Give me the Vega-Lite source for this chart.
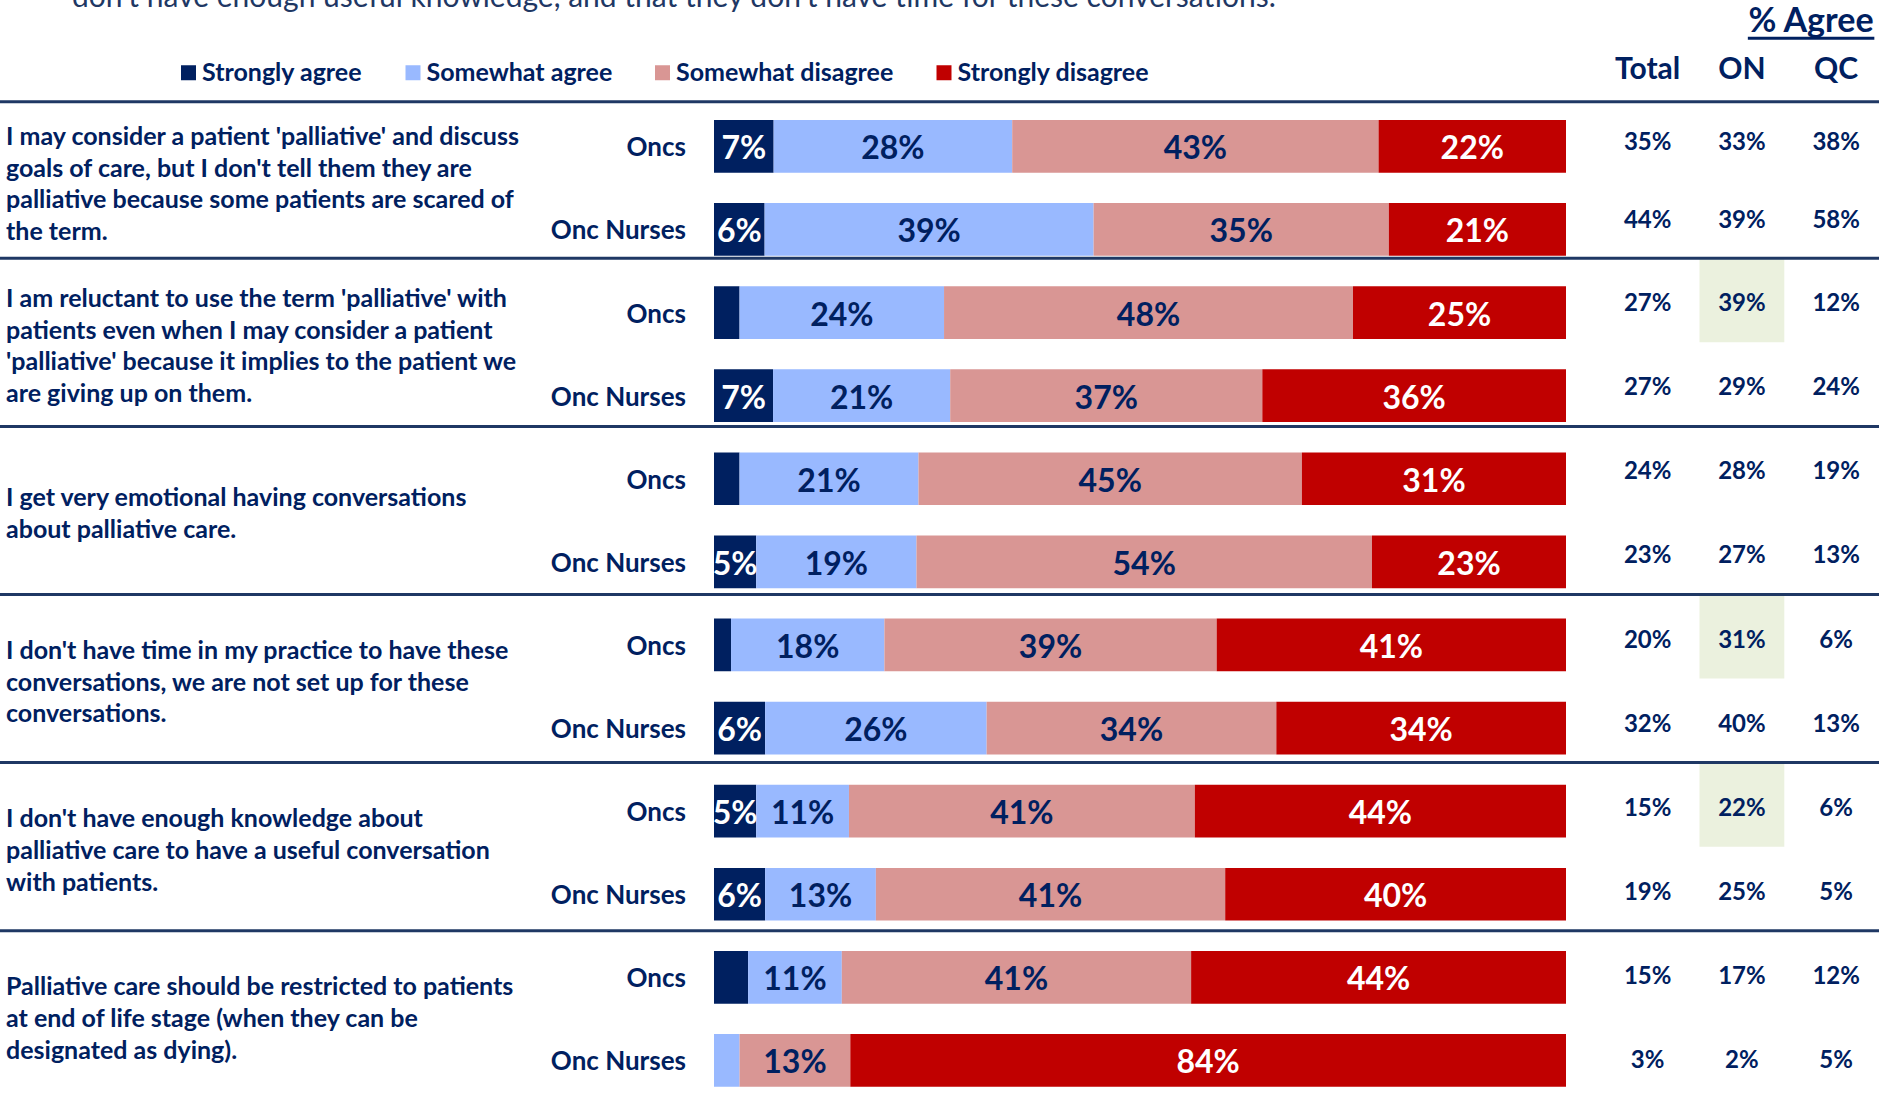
{
  "$schema": "https://vega.github.io/schema/vega-lite/v6.json",
  "width": 1879,
  "height": 1097,
  "autosize": {"type": "none"},
  "padding": 0,
  "background": "white",
  "config": {"view": {"stroke": null}, "font": "Lato"},
  "datasets": {
    "bars": [
      {"q": "Q1", "who": "Oncs", "resp": "Strongly agree", "level": 1, "value": 0.07},
      {"q": "Q1", "who": "Oncs", "resp": "Somewhat agree", "level": 2, "value": 0.28},
      {"q": "Q1", "who": "Oncs", "resp": "Somewhat disagree", "level": 3, "value": 0.43},
      {"q": "Q1", "who": "Oncs", "resp": "Strongly disagree", "level": 4, "value": 0.22},
      {"q": "Q1", "who": "Onc Nurses", "resp": "Strongly agree", "level": 1, "value": 0.06},
      {"q": "Q1", "who": "Onc Nurses", "resp": "Somewhat agree", "level": 2, "value": 0.39},
      {"q": "Q1", "who": "Onc Nurses", "resp": "Somewhat disagree", "level": 3, "value": 0.35},
      {"q": "Q1", "who": "Onc Nurses", "resp": "Strongly disagree", "level": 4, "value": 0.21},
      {"q": "Q2", "who": "Oncs", "resp": "Strongly agree", "level": 1, "value": 0.03},
      {"q": "Q2", "who": "Oncs", "resp": "Somewhat agree", "level": 2, "value": 0.24},
      {"q": "Q2", "who": "Oncs", "resp": "Somewhat disagree", "level": 3, "value": 0.48},
      {"q": "Q2", "who": "Oncs", "resp": "Strongly disagree", "level": 4, "value": 0.25},
      {"q": "Q2", "who": "Onc Nurses", "resp": "Strongly agree", "level": 1, "value": 0.07},
      {"q": "Q2", "who": "Onc Nurses", "resp": "Somewhat agree", "level": 2, "value": 0.21},
      {"q": "Q2", "who": "Onc Nurses", "resp": "Somewhat disagree", "level": 3, "value": 0.37},
      {"q": "Q2", "who": "Onc Nurses", "resp": "Strongly disagree", "level": 4, "value": 0.36},
      {"q": "Q3", "who": "Oncs", "resp": "Strongly agree", "level": 1, "value": 0.03},
      {"q": "Q3", "who": "Oncs", "resp": "Somewhat agree", "level": 2, "value": 0.21},
      {"q": "Q3", "who": "Oncs", "resp": "Somewhat disagree", "level": 3, "value": 0.45},
      {"q": "Q3", "who": "Oncs", "resp": "Strongly disagree", "level": 4, "value": 0.31},
      {"q": "Q3", "who": "Onc Nurses", "resp": "Strongly agree", "level": 1, "value": 0.05},
      {"q": "Q3", "who": "Onc Nurses", "resp": "Somewhat agree", "level": 2, "value": 0.19},
      {"q": "Q3", "who": "Onc Nurses", "resp": "Somewhat disagree", "level": 3, "value": 0.54},
      {"q": "Q3", "who": "Onc Nurses", "resp": "Strongly disagree", "level": 4, "value": 0.23},
      {"q": "Q4", "who": "Oncs", "resp": "Strongly agree", "level": 1, "value": 0.02},
      {"q": "Q4", "who": "Oncs", "resp": "Somewhat agree", "level": 2, "value": 0.18},
      {"q": "Q4", "who": "Oncs", "resp": "Somewhat disagree", "level": 3, "value": 0.39},
      {"q": "Q4", "who": "Oncs", "resp": "Strongly disagree", "level": 4, "value": 0.41},
      {"q": "Q4", "who": "Onc Nurses", "resp": "Strongly agree", "level": 1, "value": 0.06},
      {"q": "Q4", "who": "Onc Nurses", "resp": "Somewhat agree", "level": 2, "value": 0.26},
      {"q": "Q4", "who": "Onc Nurses", "resp": "Somewhat disagree", "level": 3, "value": 0.34},
      {"q": "Q4", "who": "Onc Nurses", "resp": "Strongly disagree", "level": 4, "value": 0.34},
      {"q": "Q5", "who": "Oncs", "resp": "Strongly agree", "level": 1, "value": 0.05},
      {"q": "Q5", "who": "Oncs", "resp": "Somewhat agree", "level": 2, "value": 0.11},
      {"q": "Q5", "who": "Oncs", "resp": "Somewhat disagree", "level": 3, "value": 0.41},
      {"q": "Q5", "who": "Oncs", "resp": "Strongly disagree", "level": 4, "value": 0.44},
      {"q": "Q5", "who": "Onc Nurses", "resp": "Strongly agree", "level": 1, "value": 0.06},
      {"q": "Q5", "who": "Onc Nurses", "resp": "Somewhat agree", "level": 2, "value": 0.13},
      {"q": "Q5", "who": "Onc Nurses", "resp": "Somewhat disagree", "level": 3, "value": 0.41},
      {"q": "Q5", "who": "Onc Nurses", "resp": "Strongly disagree", "level": 4, "value": 0.40},
      {"q": "Q6", "who": "Oncs", "resp": "Strongly agree", "level": 1, "value": 0.04},
      {"q": "Q6", "who": "Oncs", "resp": "Somewhat agree", "level": 2, "value": 0.11},
      {"q": "Q6", "who": "Oncs", "resp": "Somewhat disagree", "level": 3, "value": 0.41},
      {"q": "Q6", "who": "Oncs", "resp": "Strongly disagree", "level": 4, "value": 0.44},
      {"q": "Q6", "who": "Onc Nurses", "resp": "Strongly agree", "level": 1, "value": 0.0},
      {"q": "Q6", "who": "Onc Nurses", "resp": "Somewhat agree", "level": 2, "value": 0.03},
      {"q": "Q6", "who": "Onc Nurses", "resp": "Somewhat disagree", "level": 3, "value": 0.13},
      {"q": "Q6", "who": "Onc Nurses", "resp": "Strongly disagree", "level": 4, "value": 0.84}
    ],
    "table": [
      {"q": "Q1", "who": "Oncs", "col": "Total", "v": 0.35, "sig": 0},
      {"q": "Q1", "who": "Oncs", "col": "ON", "v": 0.33, "sig": 0},
      {"q": "Q1", "who": "Oncs", "col": "QC", "v": 0.38, "sig": 0},
      {"q": "Q1", "who": "Onc Nurses", "col": "Total", "v": 0.44, "sig": 0},
      {"q": "Q1", "who": "Onc Nurses", "col": "ON", "v": 0.39, "sig": 0},
      {"q": "Q1", "who": "Onc Nurses", "col": "QC", "v": 0.58, "sig": 0},
      {"q": "Q2", "who": "Oncs", "col": "Total", "v": 0.27, "sig": 0},
      {"q": "Q2", "who": "Oncs", "col": "ON", "v": 0.39, "sig": 1},
      {"q": "Q2", "who": "Oncs", "col": "QC", "v": 0.12, "sig": 0},
      {"q": "Q2", "who": "Onc Nurses", "col": "Total", "v": 0.27, "sig": 0},
      {"q": "Q2", "who": "Onc Nurses", "col": "ON", "v": 0.29, "sig": 0},
      {"q": "Q2", "who": "Onc Nurses", "col": "QC", "v": 0.24, "sig": 0},
      {"q": "Q3", "who": "Oncs", "col": "Total", "v": 0.24, "sig": 0},
      {"q": "Q3", "who": "Oncs", "col": "ON", "v": 0.28, "sig": 0},
      {"q": "Q3", "who": "Oncs", "col": "QC", "v": 0.19, "sig": 0},
      {"q": "Q3", "who": "Onc Nurses", "col": "Total", "v": 0.23, "sig": 0},
      {"q": "Q3", "who": "Onc Nurses", "col": "ON", "v": 0.27, "sig": 0},
      {"q": "Q3", "who": "Onc Nurses", "col": "QC", "v": 0.13, "sig": 0},
      {"q": "Q4", "who": "Oncs", "col": "Total", "v": 0.20, "sig": 0},
      {"q": "Q4", "who": "Oncs", "col": "ON", "v": 0.31, "sig": 1},
      {"q": "Q4", "who": "Oncs", "col": "QC", "v": 0.06, "sig": 0},
      {"q": "Q4", "who": "Onc Nurses", "col": "Total", "v": 0.32, "sig": 0},
      {"q": "Q4", "who": "Onc Nurses", "col": "ON", "v": 0.40, "sig": 0},
      {"q": "Q4", "who": "Onc Nurses", "col": "QC", "v": 0.13, "sig": 0},
      {"q": "Q5", "who": "Oncs", "col": "Total", "v": 0.15, "sig": 0},
      {"q": "Q5", "who": "Oncs", "col": "ON", "v": 0.22, "sig": 1},
      {"q": "Q5", "who": "Oncs", "col": "QC", "v": 0.06, "sig": 0},
      {"q": "Q5", "who": "Onc Nurses", "col": "Total", "v": 0.19, "sig": 0},
      {"q": "Q5", "who": "Onc Nurses", "col": "ON", "v": 0.25, "sig": 0},
      {"q": "Q5", "who": "Onc Nurses", "col": "QC", "v": 0.05, "sig": 0},
      {"q": "Q6", "who": "Oncs", "col": "Total", "v": 0.15, "sig": 0},
      {"q": "Q6", "who": "Oncs", "col": "ON", "v": 0.17, "sig": 0},
      {"q": "Q6", "who": "Oncs", "col": "QC", "v": 0.12, "sig": 0},
      {"q": "Q6", "who": "Onc Nurses", "col": "Total", "v": 0.03, "sig": 0},
      {"q": "Q6", "who": "Onc Nurses", "col": "ON", "v": 0.02, "sig": 0},
      {"q": "Q6", "who": "Onc Nurses", "col": "QC", "v": 0.05, "sig": 0}
    ],
    "questions": [
      {"q": "Q1", "text": "I may consider a patient 'palliative' and discuss\ngoals of care, but I don't tell them they are\npalliative because some patients are scared of\nthe term."},
      {"q": "Q2", "text": "I am reluctant to use the term 'palliative' with\npatients even when I may consider a patient\n'palliative' because it implies to the patient we\nare giving up on them."},
      {"q": "Q3", "text": "I get very emotional having conversations\nabout palliative care."},
      {"q": "Q4", "text": "I don't have time in my practice to have these\nconversations, we are not set up for these\nconversations."},
      {"q": "Q5", "text": "I don't have enough knowledge about\npalliative care to have a useful conversation\nwith patients."},
      {"q": "Q6", "text": "Palliative care should be restricted to patients\nat end of life stage (when they can be\ndesignated as dying)."}
    ],
    "cols": [{"col": "Total"}, {"col": "ON"}, {"col": "QC"}]
  },
  "layer": [
    {
      "data": {"name": "table"},
      "transform": [{"filter": "datum.sig == 1"}],
      "mark": {"type": "rect", "fill": "#EBF1DE"},
      "encoding": {
        "x": {"field": "col", "type": "nominal", "axis": null, "scale": {"type": "band", "domain": ["Total", "ON", "QC"], "range": [1600.5, 1883.3], "paddingInner": 0.1, "paddingOuter": 0.05}},
        "y": {"field": "q", "type": "nominal", "axis": null, "scale": {"type": "band", "domain": ["Q1", "Q2", "Q3", "Q4", "Q5", "Q6"], "range": [90.2, 1098.8], "paddingInner": 0, "paddingOuter": 0}},
        "yOffset": {"field": "who", "type": "nominal", "scale": {"type": "band", "domain": ["Oncs", "Onc Nurses"], "paddingInner": 0, "paddingOuter": 0}}
      }
    },
    {
      "data": {"name": "questions"},
      "transform": [{"filter": "datum.q != 'Q1'"}],
      "mark": {"type": "rule", "stroke": "#1F3864", "strokeWidth": 3},
      "encoding": {
        "y": {"field": "q", "type": "nominal", "axis": null, "bandPosition": 0, "scale": {"type": "band", "domain": ["Q1", "Q2", "Q3", "Q4", "Q5", "Q6"], "range": [90.2, 1098.8], "paddingInner": 0, "paddingOuter": 0}}
      }
    },
    {
      "data": {"values": [{"q": "Q1"}]},
      "mark": {"type": "rule", "stroke": "#1F3864", "strokeWidth": 3, "yOffset": -3},
      "encoding": {
        "y": {"field": "q", "type": "nominal", "axis": null, "bandPosition": 0, "scale": {"type": "band", "domain": ["Q1", "Q2", "Q3", "Q4", "Q5", "Q6"], "range": [104.8, 1102], "paddingInner": 0, "paddingOuter": 0}}
      }
    },
    {
      "data": {"name": "bars"},
      "mark": {"type": "bar"},
      "encoding": {
        "y": {"field": "q", "type": "nominal", "axis": null, "scale": {"type": "band", "domain": ["Q1", "Q2", "Q3", "Q4", "Q5", "Q6"], "range": [104.8, 1102], "paddingInner": 0, "paddingOuter": 0}},
        "yOffset": {"field": "who", "type": "nominal", "scale": {"type": "band", "domain": ["Oncs", "Onc Nurses"], "paddingInner": 0.3658, "paddingOuter": 0.1829}},
        "x": {"field": "value", "type": "quantitative", "stack": "normalize", "axis": null, "scale": {"domain": [0, 1], "range": [714, 1566], "nice": false, "zero": false}},
        "order": {"field": "level", "type": "quantitative"},
        "color": {
          "field": "resp", "type": "nominal",
          "scale": {"domain": ["Strongly agree", "Somewhat agree", "Somewhat disagree", "Strongly disagree"], "range": ["#002060", "#99B9FF", "#D99694", "#C00000"]},
          "legend": {"title": null, "orient": "none", "legendX": 176, "legendY": 60, "direction": "horizontal", "columns": 4, "symbolType": "square", "symbolSize": 225, "symbolStrokeWidth": 0, "symbolOpacity": 1, "labelFont": "Lato", "labelFontWeight": "bold", "labelFontSize": 25, "labelColor": "#002060", "labelOffset": 1, "columnPadding": 37.5, "labelLimit": 400, "padding": 0}
        }
      }
    },
    {
      "data": {"name": "bars"},
      "mark": {"type": "text", "font": "Lato", "fontWeight": "bold", "fontSize": 32, "baseline": "middle", "align": "center", "dy": 3},
      "encoding": {
        "y": {"field": "q", "type": "nominal", "axis": null, "scale": {"type": "band", "domain": ["Q1", "Q2", "Q3", "Q4", "Q5", "Q6"], "range": [104.8, 1102], "paddingInner": 0, "paddingOuter": 0}},
        "yOffset": {"field": "who", "type": "nominal", "scale": {"type": "band", "domain": ["Oncs", "Onc Nurses"], "paddingInner": 0.3658, "paddingOuter": 0.1829}},
        "x": {"field": "value", "type": "quantitative", "stack": "normalize", "bandPosition": 0.5, "axis": null, "scale": {"domain": [0, 1], "range": [714, 1566], "nice": false, "zero": false}},
        "order": {"field": "level", "type": "quantitative"},
        "text": {"field": "value", "type": "quantitative", "format": ".0%"},
        "opacity": {"condition": {"test": "datum.value >= 0.05", "value": 1}, "value": 0},
        "color": {"condition": {"test": "datum.level == 1 || datum.level == 4", "value": "#FFFFFF"}, "value": "#002060"}
      }
    },
    {
      "data": {"name": "table"},
      "transform": [{"filter": "datum.col == 'Total'"}],
      "mark": {"type": "text", "font": "Lato", "fontWeight": "bold", "fontSize": 26, "baseline": "middle", "align": "right", "dx": -28, "dy": 2, "color": "#002060"},
      "encoding": {
        "y": {"field": "q", "type": "nominal", "axis": null, "scale": {"type": "band", "domain": ["Q1", "Q2", "Q3", "Q4", "Q5", "Q6"], "range": [104.8, 1102], "paddingInner": 0, "paddingOuter": 0}},
        "yOffset": {"field": "who", "type": "nominal", "scale": {"type": "band", "domain": ["Oncs", "Onc Nurses"], "paddingInner": 0.3658, "paddingOuter": 0.1829}},
        "x": {"datum": 0, "type": "quantitative", "axis": null, "scale": {"domain": [0, 1], "range": [714, 1566], "nice": false, "zero": false}},
        "text": {"field": "who", "type": "nominal"}
      }
    },
    {
      "data": {"name": "questions"},
      "transform": [{"filter": "datum.q == 'Q1'"}],
      "mark": {"type": "text", "font": "Lato", "fontWeight": "bold", "fontSize": 25, "baseline": "middle", "align": "left", "lineBreak": "\n", "lineHeight": 31.7, "dy": -37.3, "color": "#002060"},
      "encoding": {
        "y": {"field": "q", "type": "nominal", "axis": null, "scale": {"type": "band", "domain": ["Q1", "Q2", "Q3", "Q4", "Q5", "Q6"], "range": [90.2, 1098.8], "paddingInner": 0, "paddingOuter": 0}},
        "x": {"datum": 0, "type": "quantitative", "axis": null, "scale": {"domain": [0, 1], "range": [6, 100], "nice": false, "zero": false}},
        "text": {"field": "text", "type": "nominal"}
      }
    },
    {
      "data": {"name": "questions"},
      "transform": [{"filter": "datum.q == 'Q2'"}],
      "mark": {"type": "text", "font": "Lato", "fontWeight": "bold", "fontSize": 25, "baseline": "middle", "align": "left", "lineBreak": "\n", "lineHeight": 31.7, "dy": -43.4, "color": "#002060"},
      "encoding": {
        "y": {"field": "q", "type": "nominal", "axis": null, "scale": {"type": "band", "domain": ["Q1", "Q2", "Q3", "Q4", "Q5", "Q6"], "range": [90.2, 1098.8], "paddingInner": 0, "paddingOuter": 0}},
        "x": {"datum": 0, "type": "quantitative", "axis": null, "scale": {"domain": [0, 1], "range": [6, 100], "nice": false, "zero": false}},
        "text": {"field": "text", "type": "nominal"}
      }
    },
    {
      "data": {"name": "questions"},
      "transform": [{"filter": "datum.q == 'Q3'"}],
      "mark": {"type": "text", "font": "Lato", "fontWeight": "bold", "fontSize": 25, "baseline": "middle", "align": "left", "lineBreak": "\n", "lineHeight": 31.7, "dy": -12.6, "color": "#002060"},
      "encoding": {
        "y": {"field": "q", "type": "nominal", "axis": null, "scale": {"type": "band", "domain": ["Q1", "Q2", "Q3", "Q4", "Q5", "Q6"], "range": [90.2, 1098.8], "paddingInner": 0, "paddingOuter": 0}},
        "x": {"datum": 0, "type": "quantitative", "axis": null, "scale": {"domain": [0, 1], "range": [6, 100], "nice": false, "zero": false}},
        "text": {"field": "text", "type": "nominal"}
      }
    },
    {
      "data": {"name": "questions"},
      "transform": [{"filter": "datum.q == 'Q4' || datum.q == 'Q5' || datum.q == 'Q6'"}],
      "mark": {"type": "text", "font": "Lato", "fontWeight": "bold", "fontSize": 25, "baseline": "middle", "align": "left", "lineBreak": "\n", "lineHeight": 31.7, "dy": -27.5, "color": "#002060"},
      "encoding": {
        "y": {"field": "q", "type": "nominal", "axis": null, "scale": {"type": "band", "domain": ["Q1", "Q2", "Q3", "Q4", "Q5", "Q6"], "range": [90.2, 1098.8], "paddingInner": 0, "paddingOuter": 0}},
        "x": {"datum": 0, "type": "quantitative", "axis": null, "scale": {"domain": [0, 1], "range": [6, 100], "nice": false, "zero": false}},
        "text": {"field": "text", "type": "nominal"}
      }
    },
    {
      "data": {"name": "table"},
      "transform": [{"filter": "datum.q != 'Q1'"}],
      "mark": {"type": "text", "font": "Lato", "fontWeight": "bold", "fontSize": 24, "baseline": "middle", "align": "center", "dy": 4, "color": "#002060"},
      "encoding": {
        "x": {"field": "col", "type": "nominal", "axis": null, "scale": {"type": "band", "domain": ["Total", "ON", "QC"], "range": [1600.5, 1883.3], "paddingInner": 0.1, "paddingOuter": 0.05}},
        "y": {"field": "q", "type": "nominal", "axis": null, "scale": {"type": "band", "domain": ["Q1", "Q2", "Q3", "Q4", "Q5", "Q6"], "range": [90.2, 1098.8], "paddingInner": 0, "paddingOuter": 0}},
        "yOffset": {"field": "who", "type": "nominal", "scale": {"type": "band", "domain": ["Oncs", "Onc Nurses"], "paddingInner": 0, "paddingOuter": 0}},
        "text": {"field": "v", "type": "quantitative", "format": ".0%"}
      }
    },
    {
      "data": {"name": "table"},
      "transform": [{"filter": "datum.q == 'Q1'"}],
      "mark": {"type": "text", "font": "Lato", "fontWeight": "bold", "fontSize": 24, "baseline": "middle", "align": "center", "dy": 2, "color": "#002060"},
      "encoding": {
        "x": {"field": "col", "type": "nominal", "axis": null, "scale": {"type": "band", "domain": ["Total", "ON", "QC"], "range": [1600.5, 1883.3], "paddingInner": 0.1, "paddingOuter": 0.05}},
        "y": {"field": "q", "type": "nominal", "axis": null, "scale": {"type": "band", "domain": ["Q1", "Q2", "Q3", "Q4", "Q5", "Q6"], "range": [90.2, 1098.8], "paddingInner": 0, "paddingOuter": 0}},
        "yOffset": {"field": "who", "type": "nominal", "scale": {"type": "band", "domain": ["Oncs", "Onc Nurses"], "range": [11.5, 168.1], "paddingInner": 0, "paddingOuter": 0}},
        "text": {"field": "v", "type": "quantitative", "format": ".0%"}
      }
    },
    {
      "data": {"name": "cols"},
      "mark": {"type": "text", "font": "Lato", "fontWeight": "bold", "fontSize": 30, "baseline": "middle", "align": "center", "dy": -20, "color": "#002060"},
      "encoding": {
        "x": {"field": "col", "type": "nominal", "axis": null, "scale": {"type": "band", "domain": ["Total", "ON", "QC"], "range": [1600.5, 1883.3], "paddingInner": 0.1, "paddingOuter": 0.05}},
        "y": {"datum": "Q1", "type": "nominal", "axis": null, "bandPosition": 0, "scale": {"type": "band", "domain": ["Q1", "Q2", "Q3", "Q4", "Q5", "Q6"], "range": [90.2, 1098.8], "paddingInner": 0, "paddingOuter": 0}},
        "text": {"field": "col", "type": "nominal"}
      }
    },
    {
      "data": {"values": [{"label": "% Agree"}]},
      "mark": {"type": "text", "font": "Lato", "fontWeight": "bold", "fontSize": 34, "baseline": "middle", "align": "right", "dx": -5, "dy": -68, "color": "#002060"},
      "encoding": {
        "x": {"datum": "QC", "type": "nominal", "axis": null, "bandPosition": 1, "scale": {"type": "band", "domain": ["Total", "ON", "QC"], "range": [1600.5, 1883.3], "paddingInner": 0.1, "paddingOuter": 0.05}},
        "y": {"datum": "Q1", "type": "nominal", "axis": null, "bandPosition": 0, "scale": {"type": "band", "domain": ["Q1", "Q2", "Q3", "Q4", "Q5", "Q6"], "range": [90.2, 1098.8], "paddingInner": 0, "paddingOuter": 0}},
        "text": {"field": "label", "type": "nominal"}
      }
    },
    {
      "data": {"values": [{}]},
      "mark": {"type": "rule", "stroke": "#002060", "strokeWidth": 3, "yOffset": -52},
      "encoding": {
        "x": {"datum": "ON", "type": "nominal", "axis": null, "bandPosition": 0.57, "scale": {"type": "band", "domain": ["Total", "ON", "QC"], "range": [1600.5, 1883.3], "paddingInner": 0.1, "paddingOuter": 0.05}},
        "x2": {"datum": "QC", "bandPosition": 0.95},
        "y": {"datum": "Q1", "type": "nominal", "axis": null, "bandPosition": 0, "scale": {"type": "band", "domain": ["Q1", "Q2", "Q3", "Q4", "Q5", "Q6"], "range": [90.2, 1098.8], "paddingInner": 0, "paddingOuter": 0}}
      }
    },
    {
      "data": {"values": [{"label": "don't have enough useful knowledge, and that they don't have time for these conversations."}]},
      "mark": {"type": "text", "font": "Lato", "fontWeight": "normal", "fontSize": 30, "baseline": "alphabetic", "align": "left", "dx": 66, "dy": -83, "color": "#1F3864"},
      "encoding": {
        "x": {"datum": 0, "type": "quantitative", "axis": null, "scale": {"domain": [0, 1], "range": [6, 100], "nice": false, "zero": false}},
        "y": {"datum": "Q1", "type": "nominal", "axis": null, "bandPosition": 0, "scale": {"type": "band", "domain": ["Q1", "Q2", "Q3", "Q4", "Q5", "Q6"], "range": [90.2, 1098.8], "paddingInner": 0, "paddingOuter": 0}},
        "text": {"field": "label", "type": "nominal"}
      }
    }
  ],
  "resolve": {"scale": {"x": "independent", "y": "independent", "yOffset": "independent", "color": "independent", "opacity": "independent"}}
}
